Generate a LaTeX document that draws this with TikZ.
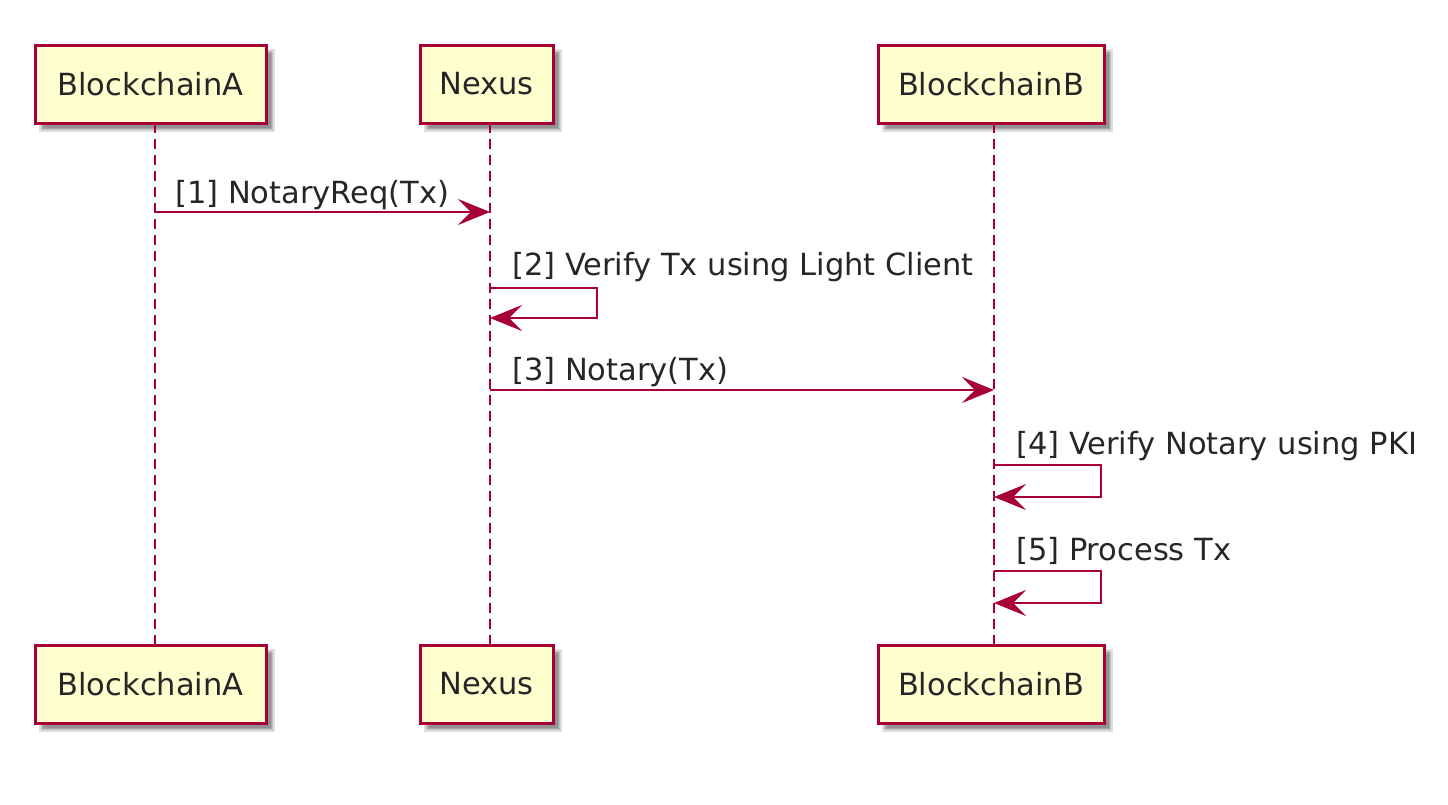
\documentclass[tikz,border=0pt]{standalone}
\usepackage{fontspec}
\setmainfont{DejaVu Sans}
\usetikzlibrary{arrows.meta,calc}
\definecolor{pumlred}{HTML}{A80036}
\definecolor{pumlfill}{HTML}{FEFECE}
\begin{document}
\begin{tikzpicture}[x=1pt,y=-1pt,
  txt/.style={font=\fontsize{30.5}{36}\selectfont, text=black!85},
  part/.style={txt, draw=pumlred, line width=3pt, fill=pumlfill, minimum height=78pt, inner sep=0pt},
  life/.style={draw=pumlred, line width=2.2pt, dash pattern=on 10pt off 6pt},
  msg/.style={draw=pumlred, line width=2.8pt, -{Stealth[length=32pt, width=26pt, inset=13pt]}},
  lbl/.style={txt, anchor=base west, inner sep=0pt},
  shadowbox/.style={fill=black, opacity=0.13, draw=none}
]
\useasboundingbox (0,0) rectangle (1448,804);
\fill[white] (0,0) rectangle (1448,804);

% shadows
\foreach \l/\r/\t/\b in {35/266/45/123, 420/553/45/123, 878/1104/45/123, 35/266/645/723, 420/553/645/723, 878/1104/645/723}{
  \fill[shadowbox] (\l+7,\t+7) rectangle (\r+7,\b+7);
  \fill[shadowbox] (\l+4,\t+4) rectangle (\r+9,\b+9);
  \fill[shadowbox] (\l+9,\t+9) rectangle (\r+5,\b+5);
  \fill[shadowbox] (\l+6,\t+6) rectangle (\r+6,\b+6);
}

% lifelines (drawn first so boxes cover them)
\coordinate (la1) at (155,123);
\coordinate (la2) at (155,645);
\coordinate (ln1) at (490,123);
\coordinate (ln2) at (490,645);
\coordinate (lb1) at (994,123);
\coordinate (lb2) at (994,645);
\draw[life] (la1) -- (la2);
\draw[life] (ln1) -- (ln2);
\draw[life] (lb1) -- (lb2);

% participants
\node[part, minimum width=231pt] (a)  at (150.5,84) {BlockchainA};
\node[part, minimum width=133pt] (n)  at (486.5,84) {Nexus};
\node[part, minimum width=226pt] (b)  at (991,84)   {BlockchainB};
\node[part, minimum width=231pt] (a2) at (150.5,684) {BlockchainA};
\node[part, minimum width=133pt] (n2) at (486.5,684) {Nexus};
\node[part, minimum width=226pt] (b2) at (991,684)   {BlockchainB};

% message 1
\coordinate (m1s) at (155,212);
\coordinate (m1e) at (490,212);
\draw[msg] (m1s) -- (m1e);
\node[lbl] (t1) at (175,203) {[1] NotaryReq(Tx)};

% message 2 (self)
\coordinate (m2s) at (490,288);
\coordinate (m2e) at (490,318);
\draw[msg] (m2s) -- (597,288) -- (597,318) -- (m2e);
\node[lbl] (t2) at (512,275) {[2] Verify Tx using Light Client};

% message 3
\coordinate (m3s) at (490,390);
\coordinate (m3e) at (994,390);
\draw[msg] (m3s) -- (m3e);
\node[lbl] (t3) at (512,380) {[3] Notary(Tx)};

% message 4 (self)
\coordinate (m4s) at (994,465);
\coordinate (m4e) at (994,497);
\draw[msg] (m4s) -- (1101,465) -- (1101,497) -- (m4e);
\node[lbl] (t4) at (1016,454) {[4] Verify Notary using PKI};

% message 5 (self)
\coordinate (m5s) at (994,571);
\coordinate (m5e) at (994,603);
\draw[msg] (m5s) -- (1101,571) -- (1101,603) -- (m5e);
\node[lbl] (t5) at (1016,560) {[5] Process Tx};
\end{tikzpicture}
\end{document}
